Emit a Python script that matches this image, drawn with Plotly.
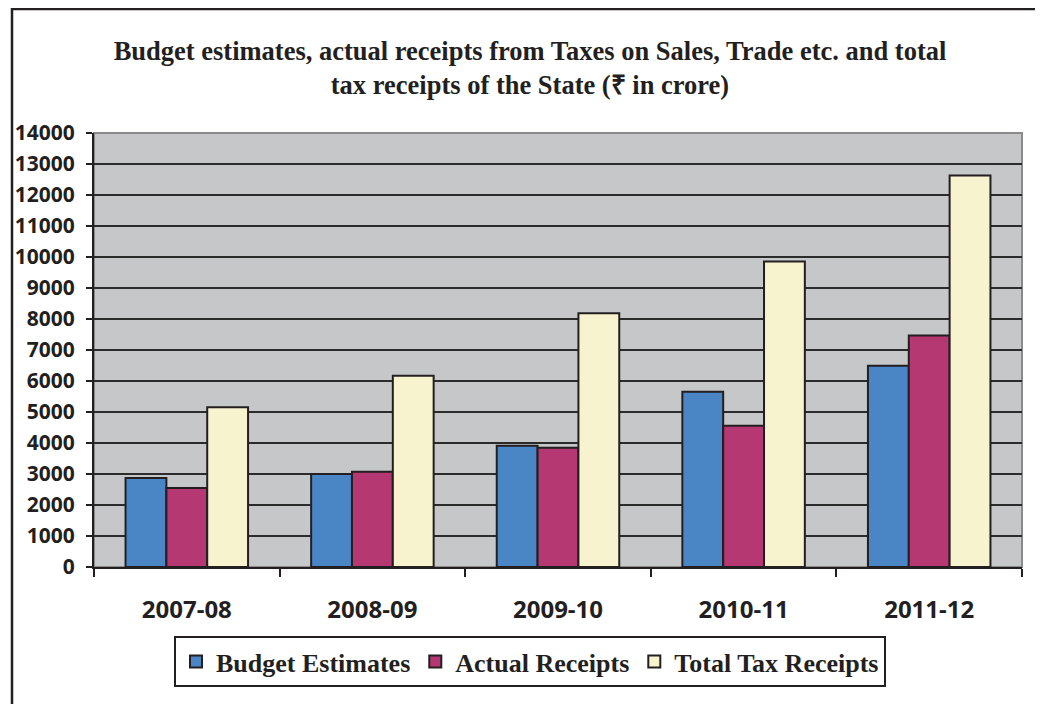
import plotly.graph_objects as go

years = ["2007-08", "2008-09", "2009-10", "2010-11", "2011-12"]
budget_estimates = [2875, 3000, 3910, 5650, 6490]
actual_receipts = [2550, 3070, 3845, 4555, 7465]
total_tax_receipts = [5150, 6170, 8185, 9855, 12630]
y_ticks = list(range(0, 14001, 1000))
y_tick_labels = [str(v) for v in y_ticks]

series = [
    ("Budget Estimates", budget_estimates, "#4A86C6"),
    ("Actual Receipts", actual_receipts, "#B53872"),
    ("Total Tax Receipts", total_tax_receipts, "#F8F3CF"),
]

fig = go.Figure()
for name, vals, col in series:
    fig.add_trace(go.Bar(
        x=years, y=vals, name=name,
        marker=dict(color=col, line=dict(color="#231F20", width=2)),
    ))

# page body has an 8px margin; compensate
OFF = 8
W, H = 1043 - OFF, 704 - OFF
L, T = 94 - OFF, 133 - OFF
R = W - (1022 - OFF)
B = H - (567 - OFF)
pw, ph = W - L - R, H - T - B

def px_x(sx):  # screen x -> paper x
    return (sx - OFF - L) / pw

def px_y(sy):  # screen y -> paper y
    return (H - B - (sy - OFF)) / ph

fig.update_layout(
    width=W, height=H,
    margin=dict(l=L, r=R, t=T, b=B, autoexpand=False),
    paper_bgcolor="white",
    plot_bgcolor="#C6C7C9",
    barmode="group", bargap=0.34, bargroupgap=0,
    title=dict(
        text="Budget estimates, actual receipts from Taxes on Sales, Trade etc. and total<br>tax receipts of the State (₹ in crore)",
        x=(530 - OFF) / W, xanchor="center", xref="container",
        y=1 - 52 / H, yanchor="top", yref="container",
        font=dict(family="Liberation Serif", size=26.5, color="#231F20", weight="bold"),
    ),
    font=dict(family="Open Sans", color="#231F20"),
    showlegend=True,
    legend=dict(
        orientation="h",
        x=px_x(530), xanchor="center",
        y=px_y(636), yanchor="top",
        font=dict(family="Liberation Serif", size=26, color="#231F20", weight="bold"),
        bordercolor="#231F20", borderwidth=2,
        bgcolor="white",
        itemwidth=30, tracegroupgap=0,
    ),
    xaxis=dict(
        type="category", automargin=False,
        showline=True, linecolor="#231F20", linewidth=2,
        ticks="outside", tickson="boundaries", ticklen=8, tickwidth=2, tickcolor="#231F20",
        tickfont=dict(family="Open Sans", size=24, color="#231F20", weight="bold"),
        ticklabelstandoff=20,
        showgrid=False,
    ),
    yaxis=dict(
        range=[0, 14000], automargin=False,
        tickvals=y_ticks, ticktext=y_tick_labels,
        showline=True, linecolor="#231F20", linewidth=2,
        ticks="outside", ticklen=6, tickwidth=2, tickcolor="#231F20",
        tickfont=dict(family="Open Sans", size=21, color="#231F20", weight="bold"),
        ticklabelstandoff=7,
        showgrid=True, gridcolor="#2B2B2B", gridwidth=2,
        zeroline=False,
    ),
)

# outer frame of the chart (extends beyond the canvas on the right and bottom)
fig.add_shape(
    type="rect", xref="paper", yref="paper",
    x0=px_x(12), x1=px_x(1070),
    y0=px_y(730), y1=px_y(9),
    line=dict(color="#231F20", width=2.5), fillcolor="rgba(0,0,0,0)", layer="below",
)
# plot-area border
fig.add_shape(
    type="rect", xref="paper", yref="paper", x0=0, x1=1, y0=0, y1=1,
    line=dict(color="#8A8A8A", width=2), fillcolor="rgba(0,0,0,0)", layer="below",
)

fig.write_html("out.html")
